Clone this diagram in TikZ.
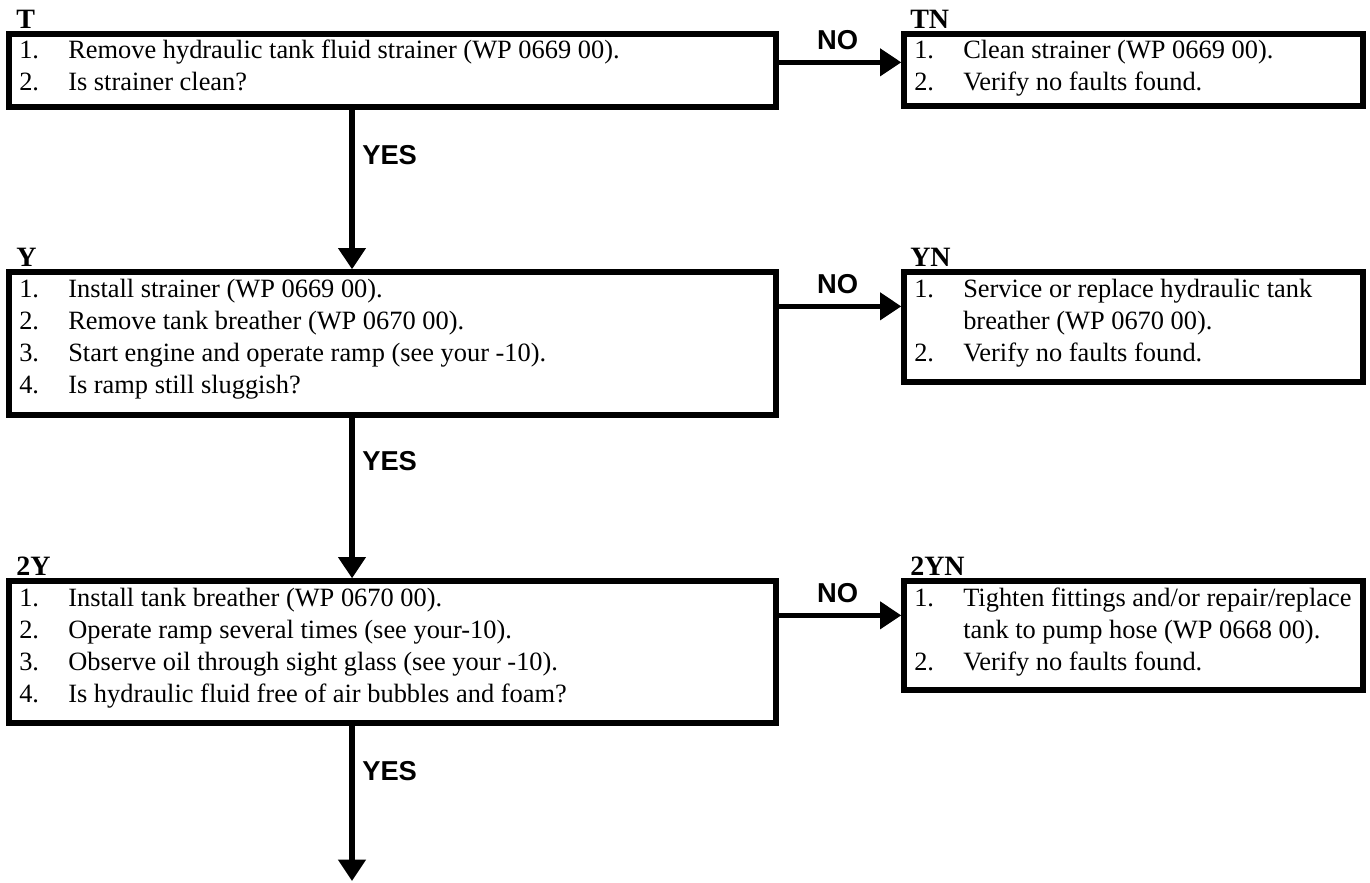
\documentclass[tikz,border=0pt]{standalone}
\usepackage{fontspec}
\setmainfont{Liberation Serif}
\newfontfamily\sansb{Liberation Sans}
\usetikzlibrary{arrows.meta,fit,calc}
\newcommand\steps[1]{\begin{tabular}[t]{@{}p{36.75pt}@{}l@{}}#1\end{tabular}}
\begin{document}
\begin{tikzpicture}[x=0.75pt,y=-0.75pt,
  box/.style={draw, line width=4pt, inner sep=0pt},
  txt/.style={anchor=base west, inner sep=0pt, font=\fontsize{19.8}{24}\selectfont},
  tag/.style={anchor=base west, inner sep=0pt, font=\fontsize{21}{21}\selectfont\bfseries},
  yn/.style={inner sep=0pt, font=\fontsize{20.5}{20.5}\selectfont\sansb\bfseries},
  arr/.style={line width=3.9pt, -{Triangle[length=16pt,width=20pt]}}]
\useasboundingbox (0,0) rectangle (1370,882);
\coordinate (ax) at (352,0);
% --- boxes
\node[box, fit={(9,34) (776,107)}] (T) {};
\node[box, fit={(904,34) (1363,106)}] (TN) {};
\node[box, fit={(9,272) (776,415)}] (Y) {};
\node[box, fit={(904,272) (1363,382)}] (YN) {};
\node[box, fit={(9,581) (776,723)}] (Y2) {};
\node[box, fit={(904,581) (1363,690)}] (Y2N) {};
% --- tags
\node[tag] (Tl) at (16,28) {T};
\node[tag] (TNl) at (910,28) {TN};
\node[tag] (Yl) at (16,266) {Y};
\node[tag] (YNl) at (910,266) {YN};
\node[tag] (Y2l) at (16,575) {2Y};
\node[tag] (Y2Nl) at (910,575) {2YN};
% --- texts
\node[txt] (Tt) at (19,58) {\steps{1. & Remove hydraulic tank fluid strainer (WP 0669 00).\\ 2. & Is strainer clean?}};
\node[txt] (TNt) at (914,58) {\steps{1. & Clean strainer (WP 0669 00).\\ 2. & Verify no faults found.}};
\node[txt] (Yt) at (19,297) {\steps{1. & Install strainer (WP 0669 00).\\ 2. & Remove tank breather (WP 0670 00).\\ 3. & Start engine and operate ramp (see your -10).\\ 4. & Is ramp still sluggish?}};
\node[txt] (YNt) at (914,297) {\steps{1. & Service or replace hydraulic tank\\ & breather (WP 0670 00).\\ 2. & Verify no faults found.}};
\node[txt] (Y2t) at (19,606) {\steps{1. & Install tank breather (WP 0670 00).\\ 2. & Operate ramp several times (see your-10).\\ 3. & Observe oil through sight glass (see your -10).\\ 4. & Is hydraulic fluid free of air bubbles and foam?}};
\node[txt] (Y2Nt) at (914,606) {\steps{1. & Tighten fittings and/or repair/replace\\ & tank to pump hose (WP 0668 00).\\ 2. & Verify no faults found.}};
% --- connectors
\draw[arr] ($(T.north east)+(0,31)$) coordinate (tA) -- (tA -| TN.west);
\draw[arr] ($(Y.north east)+(0,37)$) coordinate (yA) -- (yA -| YN.west);
\draw[arr] ($(Y2.north east)+(0,37)$) coordinate (y2A) -- (y2A -| Y2N.west);
\draw[arr] (T.south -| ax) -- (Y.north -| ax);
\draw[arr] (Y.south -| ax) -- (Y2.north -| ax);
\coordinate (endp) at (352,881);
\draw[arr] (Y2.south -| ax) -- (endp);
% --- labels
\node[yn] (no1) at ($(tA)+(59,-22)$) {NO};
\node[yn] (no2) at ($(yA)+(59,-22)$) {NO};
\node[yn] (no3) at ($(y2A)+(59,-22)$) {NO};
\node[yn, anchor=west] (yes1) at (362,155) {YES};
\node[yn, anchor=west] (yes2) at (362,461) {YES};
\node[yn, anchor=west] (yes3) at (362,771) {YES};
\end{tikzpicture}
\end{document}
